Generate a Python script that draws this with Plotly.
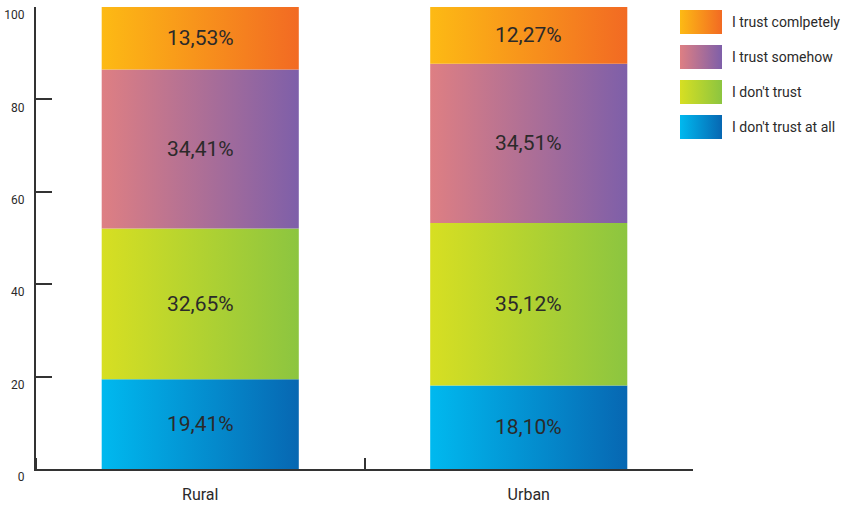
import plotly.graph_objects as go

# Survey data: share of respondents (%) per trust level, stacked bottom to top
categories = ["Rural", "Urban"]
levels = ["I don't trust at all", "I don't trust", "I trust somehow", "I trust comlpetely"]
rural = [19.41, 32.65, 34.41, 13.53]
urban = [18.10, 35.12, 34.51, 12.27]
y_ticks = [0, 20, 40, 60, 80, 100]

# Horizontal gradient (left colour, right colour) for each trust level
gradients = [
    ("#00B9EF", "#0767B2"),
    ("#D7DF22", "#8CC540"),
    ("#DE7F83", "#7E5FA9"),
    ("#FDBA14", "#F26A23"),
]

FONT = "Roboto, sans-serif"
TEXT = "#2B2A2A"
AXIS = "#333333"
BAR_W = 0.6

fig = go.Figure()
annotations = []

for xi, values in enumerate([rural, urban]):
    base = 0.0
    for li, v in enumerate(values):
        top = base + v
        x0, x1 = xi - BAR_W / 2, xi + BAR_W / 2
        c0, c1 = gradients[li]
        fig.add_trace(go.Scatter(
            x=[x0, x1, x1, x0, x0],
            y=[base, base, top, top, base],
            mode="lines",
            line=dict(width=0),
            fill="toself",
            fillgradient=dict(type="horizontal", colorscale=[[0, c0], [1, c1]]),
            hoverinfo="skip",
            showlegend=False,
        ))
        annotations.append(dict(
            x=xi, y=base + v / 2, xref="x", yref="y",
            text=f"{v:.2f}".replace(".", ",") + "%",
            showarrow=False,
            font=dict(family=FONT, size=21, color=TEXT),
        ))
        base = top

# Legend drawn on an auxiliary pixel-like axis pair at the right
SW_W, SW_H, ROW = 42, 24, 35
for row, li in enumerate(reversed(range(len(levels)))):
    top = 3 + ROW * row
    c0, c1 = gradients[li]
    fig.add_trace(go.Scatter(
        x=[0, SW_W, SW_W, 0, 0],
        y=[top, top, top + SW_H, top + SW_H, top],
        xaxis="x2", yaxis="y2",
        mode="lines",
        line=dict(width=0),
        fill="toself",
        fillgradient=dict(type="horizontal", colorscale=[[0, c0], [1, c1]]),
        hoverinfo="skip",
        showlegend=False,
    ))
    annotations.append(dict(
        x=SW_W + 8, y=top + SW_H / 2, xref="x2", yref="y2",
        text=levels[li], showarrow=False, xanchor="left",
        font=dict(family=FONT, size=14, color=TEXT),
    ))

W, H = 841, 507
ML, MR, MT, MB = 36, 0, 7, 38
plot_w = W - ML - MR

fig.update_layout(
    width=W, height=H,
    margin=dict(l=ML, r=MR, t=MT, b=MB, pad=0),
    plot_bgcolor="white", paper_bgcolor="white",
    showlegend=False,
    annotations=annotations,
    xaxis=dict(
        domain=[0, (693 - ML) / plot_w],
        range=[-0.5, 1.5],
        tickvals=[0, 1], ticktext=categories,
        ticks="",
        minor=dict(tickvals=[-0.5, 0.5, 1.5], ticks="inside", ticklen=11,
                   tickwidth=2, tickcolor=AXIS),
        showline=True, linecolor=AXIS, linewidth=2,
        showgrid=False, zeroline=False,
        tickfont=dict(family=FONT, size=16, color=TEXT),
        ticklabelstandoff=10,
        fixedrange=True,
    ),
    yaxis=dict(
        range=[0, 100],
        tickvals=y_ticks,
        ticks="inside", ticklen=16, tickwidth=2, tickcolor=AXIS,
        showline=True, linecolor=AXIS, linewidth=2,
        showgrid=False, zeroline=False,
        tickfont=dict(family=FONT, size=12, color=TEXT),
        ticklabelstandoff=7,
        ticklabelshift=8,
        fixedrange=True,
    ),
    xaxis2=dict(
        domain=[(680 - ML) / plot_w, 1],
        range=[0, W - 680],
        visible=False, anchor="y2", fixedrange=True,
    ),
    yaxis2=dict(
        domain=[0, 1],
        range=[H - MT - MB, 0],
        visible=False, anchor="x2", fixedrange=True,
    ),
)

fig.write_html("out.html")
